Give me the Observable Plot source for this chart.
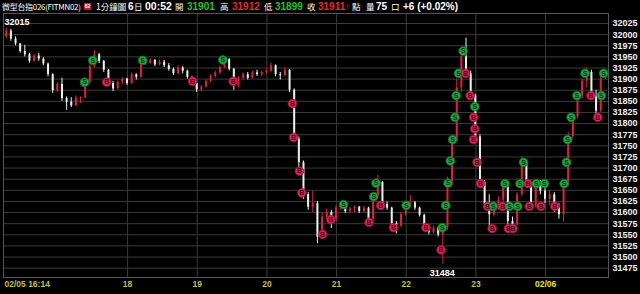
<!DOCTYPE html>
<html><head><meta charset="utf-8">
<script src="https://cdn.jsdelivr.net/npm/d3@7"></script>
<script src="https://cdn.jsdelivr.net/npm/@observablehq/plot@0.6"></script>
<style>
html,body{margin:0;padding:0;background:#000;width:640px;height:294px;overflow:hidden}
#title{position:relative;height:13px;width:640px;font-family:"Liberation Sans",Arial,sans-serif;color:#fff;white-space:nowrap}
#title span{position:absolute;top:0;line-height:13px}
.cj{font-family:"Noto Sans CJK TC",sans-serif;font-size:8.5px}
.n{font-weight:bold;font-size:10px}
.g{color:#22c03a}.r{color:#e82a2a}
#chart svg{display:block}
</style></head>
<body>
<div id="title">
<span class="cj" style="left:2px;font-size:8px;letter-spacing:-0.3px">微型台指026(FITMN02)</span>
<span style="left:84px;top:3px;line-height:7px;width:7px;height:7px;background:#c81818;color:#fff;font-size:5px;text-align:center;font-weight:bold">82</span>
<span class="cj" style="left:96px">1分鐘圖</span>
<span class="n" style="left:128px">6</span>
<span class="cj" style="left:134px">日</span>
<span class="n" style="left:145px;font-size:10.5px">00:52</span>
<span class="cj" style="left:175px">開</span>
<span class="n g" style="left:187px">31901</span>
<span class="cj" style="left:220px">高</span>
<span class="n r" style="left:232px">31912</span>
<span class="cj" style="left:264px">低</span>
<span class="n g" style="left:275px">31899</span>
<span class="cj" style="left:307px">收</span>
<span class="n r" style="left:318px">31911</span>
<span class="n r" style="left:345px">↑</span>
<span class="cj" style="left:352px">點</span>
<span class="cj" style="left:366px">量</span>
<span class="n" style="left:376px">75</span>
<span class="cj" style="left:391px">口</span>
<span class="n" style="left:403px">+6 (+0.02%)</span>
</div>
<div id="chart"></div>
<script>
// ---- data (4-minute bars starting 02/05 16:14) ----
const barStart = "16:14";
const barMinutes = 4;
const open = [31995,32008,31990,31979,31962,31955,31940,31952,31945,31934,
31910,31874,31888,31856,31848,31840,31857,31858,31893,31928,
31955,31940,31920,31890,31878,31893,31900,31890,31910,31904,
31938,31936,31942,31932,31938,31930,31922,31912,31925,31918,
31904,31890,31876,31882,31895,31906,31914,31926,31944,31922,
31885,31902,31910,31902,31914,31910,31915,31918,31930,31910,
31908,31920,31875,31765,31712,31640,31612,31620,31545,31590,
31600,31585,31610,31618,31602,31608,31612,31602,31610,31585,
31636,31668,31618,31610,31575,31570,31596,31616,31622,31610,
31594,31568,31555,31565,31550,31566,31670,31762,31880,31950,
31912,31862,31770,31668,31618,31595,31614,31628,31660,31580,
31572,31640,31710,31662,31615,31660,31648,31630,31640,31610,
31595,31662,31770,31815,31862,31895,31915,31862,31828,31901];
const high = [32015,32012,31995,31980,31976,31958,31955,31958,31948,31936,
31912,31892,31902,31860,31858,31862,31860,31898,31932,31964,
31958,31942,31922,31895,31896,31903,31902,31914,31912,31944,
31945,31946,31944,31942,31942,31935,31925,31930,31928,31920,
31906,31892,31886,31898,31910,31918,31930,31950,31946,31924,
31906,31914,31915,31918,31920,31918,31922,31936,31932,31915,
31925,31922,31878,31770,31716,31645,31648,31625,31598,31608,
31605,31615,31622,31622,31612,31615,31614,31614,31612,31640,
31684,31670,31624,31612,31580,31600,31620,31638,31625,31612,
31596,31572,31570,31568,31572,31680,31770,31900,31965,31992,
31918,31866,31775,31672,31640,31625,31635,31668,31662,31590,
31645,31725,31712,31664,31668,31672,31668,31650,31645,31620,
31670,31780,31820,31868,31900,31925,31920,31875,31912,31912];
const low = [31990,31985,31975,31958,31950,31936,31938,31940,31930,31905,
31868,31870,31850,31830,31836,31838,31845,31856,31890,31925,
31935,31915,31885,31872,31876,31888,31886,31888,31898,31902,
31932,31934,31928,31930,31926,31918,31908,31910,31912,31900,
31885,31870,31872,31880,31892,31902,31910,31924,31918,31875,
31880,31898,31898,31900,31906,31905,31910,31915,31905,31898,
31905,31870,31760,31700,31630,31605,31600,31530,31540,31585,
31564,31580,31605,31598,31598,31600,31598,31598,31575,31582,
31632,31612,31605,31568,31552,31566,31592,31612,31605,31590,
31565,31550,31552,31545,31484,31560,31665,31758,31870,31905,
31855,31760,31660,31610,31562,31590,31605,31608,31565,31562,
31570,31635,31655,31605,31610,31640,31620,31615,31600,31585,
31578,31658,31765,31810,31855,31880,31855,31815,31825,31899];
const close = [32008,31990,31979,31962,31955,31940,31952,31945,31934,31910,
31874,31888,31856,31848,31840,31857,31858,31893,31928,31955,
31940,31920,31890,31878,31893,31900,31890,31910,31904,31938,
31936,31942,31932,31938,31930,31922,31912,31925,31918,31904,
31890,31876,31882,31895,31906,31914,31926,31944,31922,31885,
31902,31910,31902,31914,31910,31915,31918,31930,31910,31908,
31920,31875,31765,31712,31640,31612,31620,31545,31590,31600,
31585,31610,31618,31602,31608,31612,31602,31610,31585,31636,
31668,31618,31610,31575,31570,31596,31616,31622,31610,31594,
31568,31555,31565,31550,31566,31670,31762,31880,31950,31912,
31862,31770,31668,31618,31595,31614,31628,31660,31580,31572,
31640,31710,31662,31615,31660,31648,31630,31640,31610,31595,
31662,31770,31815,31862,31895,31915,31862,31828,31901,31911];

// buy / sell signal markers
const markTimes = ["17:23","17:30","17:42","18:13","18:56","19:22","19:31","20:22","20:23","20:28",
"20:30","20:48","20:55","21:06","21:28","21:32","21:34","21:38","21:49","22:00",
"22:17","22:31","22:30","22:34","22:36","22:38","22:40","22:42","22:43","22:45",
"22:49","22:51","22:55","22:59","22:58","22:59","22:58","23:01","23:04","23:10",
"23:14","23:15","23:23","23:25","23:29","23:28","23:32","23:36","23:38","23:41",
"23:45","23:46","23:52","23:59","23:56","00:08","00:16","00:18","00:19","00:22",
"00:27","00:34","00:39","00:45","00:48","00:50"];
const markPrices = [31893,31942,31893,31942,31895,31943,31895,31845,31769,31693,
31644,31551,31584,31618,31578,31636,31666,31616,31566,31616,
31566,31566,31516,31616,31666,31716,31764,31814,31863,31913,
31963,31913,31863,31838,31814,31788,31764,31713,31665,31614,
31564,31614,31614,31665,31614,31564,31564,31614,31665,31713,
31665,31614,31665,31665,31614,31614,31665,31713,31764,31814,
31863,31913,31863,31814,31863,31913];
const markTypes = ["S","S","B","S","B","S","B","B","B","B",
"B","B","B","S","B","S","S","B","B","S",
"B","S","B","S","S","S","S","S","S","S",
"S","B","B","S","B","B","B","B","B","B",
"B","S","B","S","S","B","B","S","S","S",
"B","B","S","S","B","B","S","S","S","S",
"S","S","B","B","S","S"];

const yTicks = [31475,31500,31525,31550,31575,31600,31625,31650,31675,31700,31725,31750,31775,31800,31825,31850,31875,31900,31925,31950,31975,32000,32025];
const xTickTimes = ["16:14","18:00","19:00","20:00","21:00","22:00","23:00","00:00"];
const xTickLabels = ["02/05 16:14","18","19","20","21","22","23","02/06"];
const highLabel = {time:"16:14", price:32015};
const lowLabel = {time:"22:31", price:31484};

// ---- helpers ----
const day5 = Date.UTC(2025,1,5), day6 = Date.UTC(2025,1,6);
function toDate(hm){const [h,m]=hm.split(":").map(Number);return new Date((h<12?day6:day5)+(h*60+m)*60000);}
const t0 = toDate(barStart);
const bars = open.map((o,i)=>({time:new Date(+t0+(i*barMinutes+1.5)*60000),open:o,high:high[i],low:low[i],close:close[i]}));
const marks = markTimes.map((t,i)=>({time:toDate(t),price:markPrices[i],type:markTypes[i]}));
const xTicks = xTickTimes.map((t,i)=>({time:toDate(t),label:xTickLabels[i],i}));
const last = xTicks.length-1;

const UP="#dc2048", DOWN="#eeeeee", GRID="#3b3b3b";
const color = d => d.close>=d.open?UP:DOWN;

const chart = Plot.plot({
  width:640, height:281,
  marginTop:0, marginBottom:17, marginLeft:3, marginRight:32,
  style:{background:"#000",fontFamily:"'Liberation Sans',Arial,sans-serif"},
  x:{type:"utc",domain:[new Date(+t0-52000),new Date(+toDate("00:54")+12000)],axis:null},
  y:{domain:[31454,32047.5],axis:null},
  marks:[
    Plot.ruleY(yTicks,{stroke:GRID,strokeWidth:1}),
    Plot.ruleX(xTicks.slice(1),{x:"time",stroke:GRID,strokeWidth:1}),
    Plot.frame({stroke:"#555"}),
    Plot.ruleX(bars,{x:"time",y1:"low",y2:"high",stroke:color,strokeWidth:1}),
    Plot.ruleX(bars,{x:"time",y1:"open",y2:d=>d.close===d.open?d.close+1:d.close,stroke:color,strokeWidth:2}),
    Plot.dot(marks,{x:"time",y:"price",r:4.4,fill:d=>d.type==="S"?"#23a545":"#d8285c",stroke:d=>d.type==="S"?"#0f6a25":"#8a1234",strokeWidth:0.8}),
    Plot.text(marks,{x:"time",y:"price",text:"type",fill:d=>d.type==="S"?"#06320f":"#4a0616",fontSize:7,fontWeight:"bold"}),
    Plot.text(yTicks,{y:d=>d,text:d=>String(d),frameAnchor:"right",textAnchor:"start",dx:4,fill:"#f0f0f0",fontSize:9,fontWeight:"bold"}),
    Plot.text(xTicks.slice(0,1),{x:"time",text:"label",frameAnchor:"bottom",dy:9,textAnchor:"start",fill:"#c2bc5a",fontSize:8.5,fontWeight:"bold"}),
    Plot.text(xTicks.slice(1),{x:"time",text:"label",frameAnchor:"bottom",dy:9,textAnchor:"middle",fill:d=>d.i===last?"#e6e03a":"#c2bc5a",fontSize:8.5,fontWeight:"bold"}),
    Plot.text([highLabel],{x:d=>toDate(d.time),y:"price",text:d=>String(d.price),textAnchor:"start",dy:-6,fill:"#fff",fontSize:9,fontWeight:"bold"}),
    Plot.text([lowLabel],{x:d=>toDate(d.time),y:"price",text:d=>String(d.price),dy:9,fill:"#fff",fontSize:9,fontWeight:"bold"})
  ]
});
document.getElementById("chart").appendChild(chart);
</script>
</body></html>
